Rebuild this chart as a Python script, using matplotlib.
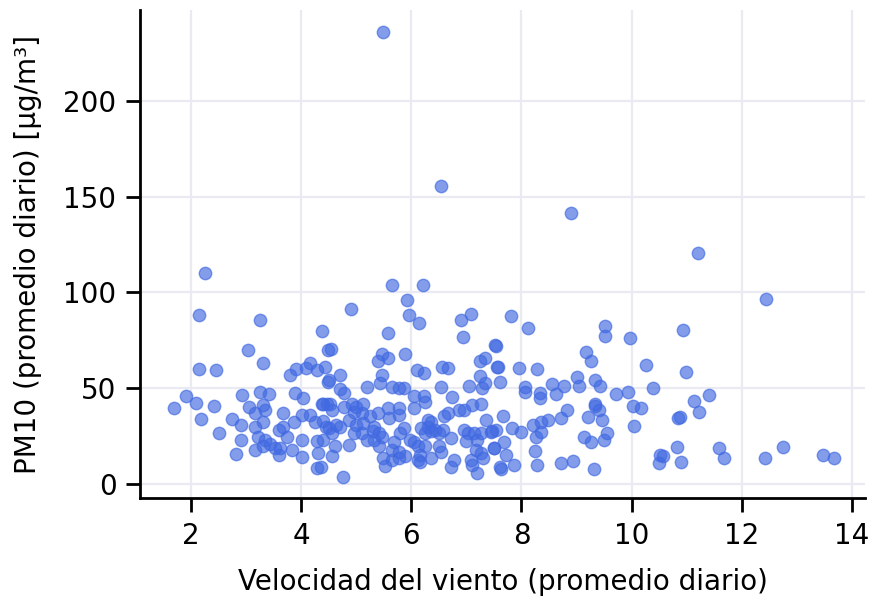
import matplotlib
matplotlib.use("Agg")
import matplotlib.pyplot as plt

# daily mean wind speed (x) and PM10 (y)
wind = [
    2.25, 2.15, 3.25, 4.38, 3.03, 3.31, 2.15, 2.45, 1.69, 1.91, 2.09, 2.18, 2.41,
    2.51, 2.74, 2.82, 2.90, 2.91, 2.92, 3.05, 3.16, 3.25, 3.42, 3.31, 3.34, 3.16,
    3.21, 3.31, 3.16, 3.34, 3.31, 3.43, 3.53, 3.60, 3.62, 3.59, 3.67, 3.67, 3.74,
    3.83, 3.86, 3.89, 4.04, 4.01, 4.01, 4.01, 4.16, 4.25, 4.28, 4.29, 4.30, 3.79,
    3.90, 4.09, 4.15, 4.28, 4.43, 4.48, 4.49, 4.37, 4.46,
    5.65, 6.21, 5.92, 4.90, 5.96, 6.13, 6.91, 7.09, 6.93, 5.58, 4.54, 7.52, 5.46,
    5.40, 5.58, 5.89, 7.24, 7.34, 7.55, 6.10, 6.23, 6.55, 6.67, 4.71, 4.51, 5.46,
    5.43, 7.24, 7.33, 7.28, 5.19, 5.64, 5.77, 5.86, 6.54, 7.04, 6.73, 6.04, 6.23,
    6.25, 6.05, 4.70, 4.77, 4.40, 4.52, 4.55, 4.40, 4.45, 4.40, 4.56, 4.63, 4.61,
    4.55, 4.36, 4.75, 4.92, 5.00, 5.12, 4.95, 5.10, 4.77, 4.86, 4.70, 5.00, 5.12,
    5.10, 5.25, 5.40, 5.58, 5.77, 5.78, 5.60, 5.32, 5.30, 5.41, 5.32, 5.47, 4.86,
    4.95, 5.20, 5.41, 5.49, 5.52, 5.64, 5.64, 5.78, 5.68, 5.80, 5.86, 5.78, 5.89,
    5.98, 6.04, 6.12, 6.25, 6.12, 6.15, 6.15, 6.24, 6.30, 6.36, 6.30, 6.18, 6.36,
    6.42, 6.51, 6.57, 6.72, 6.51, 6.54, 6.36, 6.72, 6.78, 6.60, 6.66, 6.86, 6.96,
    7.10, 7.27, 7.35, 6.95, 7.02, 6.99, 7.14, 7.20, 7.27, 7.46, 7.53, 7.17, 7.27,
    7.30, 7.08, 7.11, 7.20, 7.50, 7.62, 4.51,
    7.81, 8.11, 7.54, 7.58, 7.96, 8.29, 7.61, 8.07, 8.06, 8.34, 8.34, 8.55, 8.63,
    8.78, 9.01, 9.04, 9.18, 9.26, 9.52, 9.52, 9.97, 10.27, 9.34, 9.43, 9.71, 9.94,
    10.39, 9.34, 9.34, 9.41, 10.02, 10.17, 9.20, 9.47, 9.55, 9.50, 10.05, 9.14,
    9.26, 9.31, 8.93, 8.71, 8.83, 8.71, 8.49, 8.35, 8.20, 8.35, 8.26, 8.24, 8.29,
    7.99, 7.82, 7.66, 7.44, 7.50, 7.69, 7.71, 7.61, 7.86, 10.52, 10.49,
    11.20, 12.44, 10.93, 10.99, 11.41, 11.13, 11.22, 10.88, 10.85, 10.83, 10.89,
    10.57, 11.59, 11.67, 12.43, 12.75, 13.47, 13.67,
    5.49, 6.54, 8.90,
]
pm10 = [
    110, 88.3, 85.6, 80, 70, 63, 60, 59.5, 39.5, 46, 42.5, 33.8, 40.7,
    26.5, 34, 15.7, 30.8, 23, 46.5, 40, 37, 48, 47, 41, 38.6, 30,
    24.7, 32.5, 17.8, 23, 19.6, 21, 18.6, 15, 18.6, 28, 37, 30, 24.7,
    17.7, 32.5, 47.3, 45, 36, 23, 14, 36, 32.5, 8.2, 22.5, 16, 57,
    60, 60.4, 63, 59.6, 61, 53.4, 70, 42, 42,
    104, 104, 96, 91.2, 88.3, 84, 85.6, 88.8, 76.6, 78.6, 70.3, 72.6, 68,
    64, 65.6, 68, 64.4, 65.6, 61, 59.5, 57.8, 61.3, 60.4, 57, 54.3, 57,
    52.6, 56.4, 53, 50, 50.8, 50.8, 50, 50, 50.5, 51.3, 45.3, 46, 45.8,
    43, 39.5, 49.5, 47.3, 41.8, 41.8, 38.6, 33, 30, 23, 26.5, 31, 19.6,
    14.6, 9, 3.8, 42, 40, 42, 37.8, 37, 40, 33.4, 30, 31, 32,
    26.5, 35.4, 37, 39.6, 39.6, 36, 34.4, 30, 27.5, 26.5, 23, 24.8, 20.4,
    26.5, 23, 19.6, 13.4, 9.2, 17.6, 12.4, 16.8, 21.7, 26.5, 29.5, 13.4, 14.6,
    23, 21.7, 19.6, 19.6, 12.4, 15, 11.6, 26.5, 30, 32.5, 33.5, 29.5, 27.5,
    28.3, 26.5, 28.3, 23.8, 19.6, 16.8, 13.4, 9, 12.4, 35.4, 37, 38.6, 38.6,
    41, 42, 33.4, 28.3, 26.5, 22.5, 26.5, 23, 26.5, 27.5, 28.3, 18, 16,
    13.4, 12.4, 9.9, 5.5, 19, 8, 29,
    87.7, 81.3, 72, 61, 60.4, 59.9, 53.4, 50.8, 48, 47.3, 45, 52, 47,
    51, 56, 51.3, 69, 64.2, 82.5, 77.5, 76, 62, 54.3, 51.3, 47, 47.9,
    50.3, 41.8, 40.5, 38.9, 40.9, 39.6, 34.8, 33.4, 26.8, 23.2, 30.3, 24.7,
    22, 7.8, 12, 10.8, 38.6, 34.4, 33.4, 32.5, 31, 27, 24.7, 17.4, 9.9,
    27, 29.5, 35.4, 27, 19, 21.7, 15, 9, 10, 15, 10.8,
    120.5, 96.8, 80.4, 58.7, 46.5, 43.3, 37.4, 35.2, 34.6, 19.5, 11.7,
    14.6, 19, 13.4, 13.4, 19.3, 15.2, 13.4,
    236, 155.6, 141.5,
]

x_ticks = [2, 4, 6, 8, 10, 12, 14]
y_ticks = [0, 50, 100, 150, 200]

plt.rcParams["font.family"] = ["DejaVu Sans"]

fig = plt.figure(figsize=(8.69, 5.99), dpi=100)
ax = fig.add_axes([140 / 869, 101 / 599, 725 / 869, 488 / 599])

ax.grid(True, color="#eaeaf2", linewidth=1.6, zorder=0)
ax.set_axisbelow(True)

ax.scatter(wind, pm10, s=80, color="royalblue", alpha=0.65, zorder=3)

ax.set_xlim(1.07, 14.24)
ax.set_ylim(-7.3, 247.5)
ax.set_xticks(x_ticks)
ax.set_yticks(y_ticks)

for side in ["top", "right"]:
    ax.spines[side].set_visible(False)
for side in ["left", "bottom"]:
    ax.spines[side].set_linewidth(2)
    ax.spines[side].set_color("black")

ax.tick_params(axis="both", labelsize=20, length=10, width=2, pad=7)

ax.set_xlabel("Velocidad del viento (promedio diario)", fontsize=20, labelpad=13)
ax.set_ylabel("PM10 (promedio diario) [µg/m³]", fontsize=20, labelpad=15)

fig.savefig("out.png", dpi=100)
plt.close(fig)
